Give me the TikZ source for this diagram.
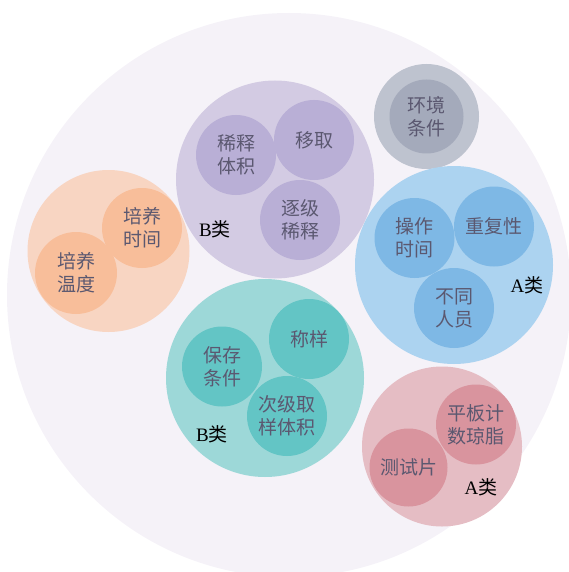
\documentclass[tikz,border=0pt]{standalone}
\usepackage{fontspec}
\setmainfont{Liberation Serif}
\newfontfamily\cjk{Noto Sans CJK SC}

\definecolor{bgfill}{HTML}{F5F2F8}
\definecolor{orangeout}{HTML}{F8D5C2}
\definecolor{orangein}{HTML}{F8BE9A}
\definecolor{purpleout}{HTML}{D3CBE3}
\definecolor{purplein}{HTML}{B9AFD6}
\definecolor{grayout}{HTML}{BEC3CF}
\definecolor{grayin}{HTML}{A4AABB}
\definecolor{blueout}{HTML}{ACD3F0}
\definecolor{bluein}{HTML}{7EB8E5}
\definecolor{tealout}{HTML}{9DD8D8}
\definecolor{tealin}{HTML}{63C5C5}
\definecolor{pinkout}{HTML}{E5BDC4}
\definecolor{pinkin}{HTML}{D9949E}
\definecolor{itemtext}{HTML}{5B5870}

\begin{document}
\begin{tikzpicture}[x=1pt,y=-1pt,
    group/.style={circle, inner sep=0pt, minimum size=198pt},
    item/.style={circle, inner sep=0pt, minimum size=80pt, align=center,
        text=itemtext, font=\cjk\fontsize{19}{23}\selectfont},
    tag/.style={inner sep=0pt, text=black, font=\fontsize{19}{21}\selectfont}]

    \useasboundingbox (0,0) rectangle (569,572);

    % background
    \fill[bgfill] (289,295) circle[radius=282pt];

    % culture
    \node[group, fill=orangeout, minimum size=162pt] (culture) at (108.5,251) {};
    \node[item, fill=orangein] (cultime) at (142,228) {培养\\时间};
    \node[item, fill=orangein, minimum size=82pt] (cultemp) at (76,273) {培养\\温度};

    % dilution
    \node[group, fill=purpleout] (dilution) at (275,179.5) {};
    \node[item, fill=purplein] (dilvol) at (236,155) {稀释\\体积};
    \node[item, fill=purplein] (pipette) at (314,140) {移取};
    \node[item, fill=purplein] (serial) at (300,220) {逐级\\稀释};
    \node[tag] (dilclass) at (215,229) {B{\cjk 类}};

    % environment
    \node[group, fill=grayout, minimum size=105pt] (env) at (426.5,116.5) {};
    \node[item, fill=grayin, minimum size=74pt] (envcond) at (426.5,116.5) {环境\\条件};

    % operation
    \node[group, fill=blueout] (operation) at (454,265) {};
    \node[item, fill=bluein] (optime) at (414.5,238) {操作\\时间};
    \node[item, fill=bluein] (repeat) at (494,226.5) {重复性};
    \node[item, fill=bluein] (persons) at (454,308) {不同\\人员};
    \node[tag] (opclass) at (527,285) {A{\cjk 类}};

    % sampling
    \node[group, fill=tealout] (sampling) at (265,378) {};
    \node[item, fill=tealin] (storage) at (222,366.5) {保存\\条件};
    \node[item, fill=tealin] (weigh) at (309,339) {称样};
    \node[item, fill=tealin] (subvol) at (287,416) {次级取\\样体积};
    \node[tag] (sampclass) at (212,434) {B{\cjk 类}};

    % medium
    \node[group, fill=pinkout, minimum size=160pt] (medium) at (442,446.5) {};
    \node[item, fill=pinkin] (agar) at (476,424.5) {平板计\\数琼脂};
    \node[item, fill=pinkin, minimum size=78pt] (film) at (408.5,467.5) {测试片};
    \node[tag] (medclass) at (481,487) {A{\cjk 类}};
\end{tikzpicture}
\end{document}
